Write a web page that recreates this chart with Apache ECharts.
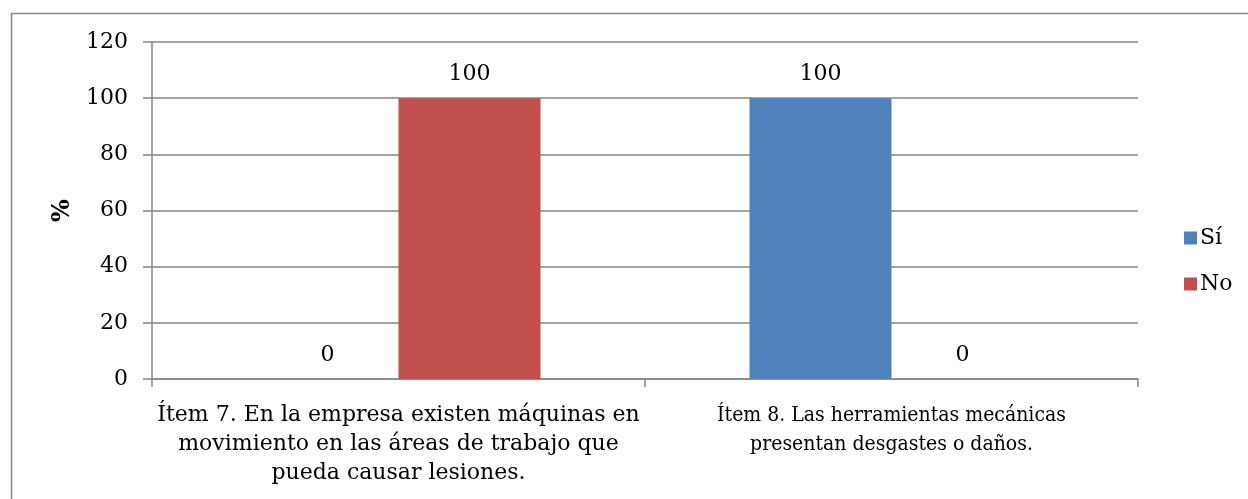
<!DOCTYPE html>
<html>
<head>
<meta charset="utf-8">
<script src="https://cdn.jsdelivr.net/npm/echarts@6/dist/echarts.min.js"></script>
<style>
html,body{margin:0;padding:0;background:#fff;}
#c{width:1248px;height:499px;}
</style>
</head>
<body>
<div id="c"></div>
<script>
const categories = [
  "Ítem 7. En la empresa existen máquinas en\nmovimiento en las áreas de trabajo que\npueda causar lesiones.",
  "Ítem 8. Las herramientas mecánicas\npresentan desgastes o daños."
];
const siValues = [0, 100];
const noValues = [100, 0];
const yTicks = { min: 0, max: 120, interval: 20 };
const FONT = '"DejaVu Serif", "Liberation Serif", serif';
const FONT2 = '"DejaVu Serif Condensed", "DejaVu Serif", serif';

const chart = echarts.init(document.getElementById('c'), null, {renderer: 'canvas'});
const labelCfg = {
  show: true, position: 'top', distance: 13,
  fontFamily: FONT, fontSize: 22, color: '#000'
};
chart.setOption({
  animation: false,
  textStyle: { fontFamily: FONT },
  graphic: [{
    type: 'rect', silent: true, z: -10,
    shape: { x: 11.5, y: 13.5, width: 1400, height: 700 },
    style: { fill: 'none', stroke: '#888', lineWidth: 1.5 }
  }],
  grid: { left: 152, right: 110, top: 42, bottom: 120, containLabel: false },
  legend: {
    orient: 'vertical', left: 1179, top: 222,
    itemWidth: 13, itemHeight: 13, itemGap: 24,
    icon: 'rect',
    textStyle: { fontFamily: FONT, fontSize: 22, color: '#000', padding: [0,0,0,-2] },
    data: ['Sí', 'No']
  },
  xAxis: {
    type: 'category', data: categories,
    axisLine: { lineStyle: { color: '#868686', width: 1.5 } },
    axisTick: { show: true, alignWithLabel: false, length: 8, lineStyle: { color: '#868686', width: 1.5 } },
    axisLabel: {
      interval: 0, margin: 22,
      formatter: function (v, i) {
        const tag = i === 0 ? 'a' : 'b';
        return v.split('\n').map(l => '{' + tag + '|' + l + '}').join('\n');
      },
      rich: {
        a: { fontFamily: FONT, fontSize: 22, color: '#000', lineHeight: 29 },
        b: { fontFamily: FONT2, fontSize: 21, color: '#000', lineHeight: 29 }
      }
    }
  },
  yAxis: {
    type: 'value', min: yTicks.min, max: yTicks.max, interval: yTicks.interval,
    name: '%', nameLocation: 'middle', nameGap: 76, nameRotate: 90,
    nameTextStyle: { fontFamily: FONT, fontSize: 24, fontWeight: 'bold', color: '#000' },
    axisLine: { show: true, lineStyle: { color: '#868686', width: 1.5 } },
    axisTick: { show: true, length: 9, lineStyle: { color: '#868686', width: 1.5 } },
    axisLabel: { fontFamily: FONT, fontSize: 22, color: '#000', margin: 24 },
    splitLine: { lineStyle: { color: '#868686', width: 1.5 } }
  },
  series: [
    { name: 'Sí', type: 'bar', data: siValues, barWidth: 142, barGap: '0%',
      itemStyle: { color: '#4F81BD' }, label: labelCfg },
    { name: 'No', type: 'bar', data: noValues, barWidth: 142, barGap: '0%',
      itemStyle: { color: '#C0504D' }, label: labelCfg }
  ]
});
</script>
</body>
</html>
